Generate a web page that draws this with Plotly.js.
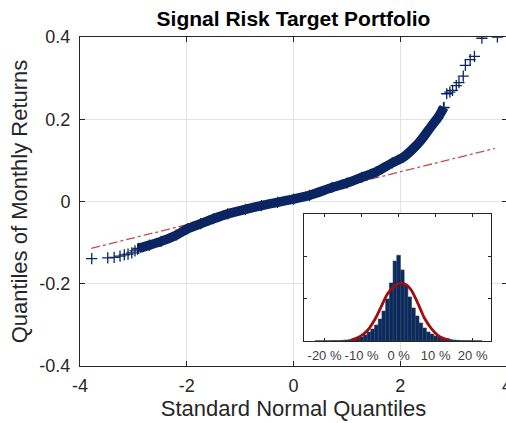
<!DOCTYPE html>
<html>
<head>
<meta charset="utf-8">
<script src="https://cdn.plot.ly/plotly-3.0.1.min.js"></script>
<style>
  html, body { margin: 0; padding: 0; background: #fff; overflow: hidden; }
  #chart { width: 507px; height: 423px; }
</style>
</head>
<body>
<div id="chart"></div>
<script>
// Q-Q plot of monthly returns against standard normal quantiles,
// with an inset histogram of the same returns and a fitted normal curve.

// Dense central part of the sample quantiles (drawn as a continuous band of markers)
const bandTheoretical = [-2.90, -2.70, -2.48, -2.20, -1.98, -1.74, -1.50, -1.23, -0.90, -0.60, -0.30, 0.00,
                          0.30, 0.72, 1.00, 1.28, 1.55, 1.85, 2.05, 2.23, 2.40, 2.57, 2.70, 2.82];
const bandSample = [-0.114, -0.106, -0.097, -0.082, -0.066, -0.054, -0.042, -0.030, -0.019, -0.010, -0.002, 0.006,
                     0.015, 0.034, 0.045, 0.059, 0.072, 0.094, 0.107, 0.127, 0.151, 0.181, 0.203, 0.229];

// Individual tail quantiles
const lowTailTheoretical = [-3.78, -3.48, -3.36, -3.25, -3.17, -3.10, -3.03, -2.97, -2.92];
const lowTailSample = [-0.139, -0.137, -0.136, -0.133, -0.130, -0.128, -0.125, -0.120, -0.116];
const highTailTheoretical = [2.81, 2.87, 2.93, 2.98, 3.05, 3.10, 3.18, 3.22, 3.31, 3.39, 3.53, 3.82];
const highTailSample = [0.228, 0.262, 0.266, 0.270, 0.282, 0.289, 0.305, 0.331, 0.345, 0.353, 0.397, 0.400];

// Reference line through the quartiles, extended across the data range
const refLineX = [-3.79, 3.77];
const refLineY = [-0.114, 0.129];

// Histogram of monthly returns (bin centres in %, density)
const binCenters = [-22, -21, -20, -19, -18, -17, -16, -15, -14, -13, -12, -11, -10, -9, -8, -7, -6, -5, -4, -3, -2, -1, 0,
                    1, 2, 3, 4, 5, 6, 7, 8, 9, 10, 11, 12, 13, 14, 15, 16, 17, 18, 19, 20, 21, 22];
const binDensity = [0.03, 0.03, 0.04, 0.04, 0.05, 0.05, 0.06, 0.08, 0.12, 0.18, 0.24, 0.36, 0.48, 0.71, 1.07, 1.43, 1.90, 2.62, 3.57, 5.00, 6.90, 9.50, 10.20,
                    8.45, 6.66, 5.24, 3.93, 2.98, 2.14, 1.55, 1.07, 0.83, 0.60, 0.48, 0.36, 0.24, 0.18, 0.12, 0.08, 0.06, 0.05, 0.05, 0.04, 0.03, 0.03];

// Fitted normal density (return in %)
const fitX = [-12.8, -10.5, -8.3, -6.5, -4.7, -2.9, -1.0, 0.7, 2.2, 3.4, 5.2, 7.0, 8.8, 11.1, 13.8];
const fitY = [0.12, 0.52, 1.31, 2.50, 4.08, 5.68, 6.55, 6.87, 6.65, 6.07, 4.48, 2.70, 1.51, 0.52, 0.12];

// Axis tick labels
const mainXTicks = [-4, -2, 0, 2, 4];
const mainXLabels = ['-4', '-2', '0', '2', '4'];
const mainYTicks = [-0.4, -0.2, 0, 0.2, 0.4];
const mainYLabels = ['-0.4', '-0.2', '0', '0.2', '0.4'];
const insetXTicks = [-20, -10, 0, 10, 20];
const insetXLabels = ['-20 %', '-10 %', '0 %', '10 %', '20 %'];

const navy = '#0a2561';
const axisColor = '#262626';
const fontFamily = 'Liberation Sans, Arial, Helvetica, sans-serif';

const crossMarker = { symbol: 'cross-thin-open', size: 8, color: navy, line: { color: navy, width: 1.3 } };

const traces = [
  {
    x: refLineX, y: refLineY, type: 'scatter', mode: 'lines',
    line: { color: '#c0504d', width: 1.3, dash: 'dashdot' },
    xaxis: 'x', yaxis: 'y', hoverinfo: 'skip'
  },
  {
    x: bandTheoretical, y: bandSample, type: 'scatter', mode: 'lines+markers',
    line: { color: navy, width: 9.5, shape: 'spline', smoothing: 0.6 },
    marker: crossMarker,
    xaxis: 'x', yaxis: 'y'
  },
  {
    x: lowTailTheoretical, y: lowTailSample, type: 'scatter', mode: 'markers',
    marker: crossMarker, xaxis: 'x', yaxis: 'y'
  },
  {
    x: highTailTheoretical, y: highTailSample, type: 'scatter', mode: 'markers',
    marker: crossMarker, xaxis: 'x', yaxis: 'y'
  },
  {
    x: binCenters, y: binDensity, type: 'bar', width: 1,
    marker: { color: '#082a5e', line: { color: '#33425e', width: 0.6 } },
    xaxis: 'x2', yaxis: 'y2'
  },
  {
    x: fitX, y: fitY, type: 'scatter', mode: 'lines',
    line: { color: '#a30d0d', width: 2.8, shape: 'spline', smoothing: 1 },
    xaxis: 'x2', yaxis: 'y2'
  }
];

const layout = {
  width: 507,
  height: 423,
  margin: { l: 80, r: 0, t: 37, b: 57 },
  paper_bgcolor: '#ffffff',
  plot_bgcolor: '#ffffff',
  showlegend: false,
  font: { family: fontFamily, color: axisColor },
  title: {
    text: '<b>Signal Risk Target Portfolio</b>',
    font: { family: fontFamily, size: 21, color: '#000000' },
    xref: 'paper', x: 0.5, xanchor: 'center',
    yref: 'container', y: 0.955, yanchor: 'middle'
  },
  xaxis: {
    domain: [0, 1],
    range: [-4, 4],
    tickvals: mainXTicks, ticktext: mainXLabels,
    ticks: 'inside', ticklen: 5, tickcolor: axisColor,
    showline: true, linecolor: axisColor, linewidth: 1, mirror: 'ticks',
    showgrid: true, gridcolor: '#e3e3e3', zeroline: false,
    tickfont: { size: 18, color: axisColor },
    ticklabelstandoff: 3,
    ticklabeloverflow: 'allow',
    title: { text: 'Standard Normal Quantiles', font: { size: 22, color: axisColor }, standoff: 4 }
  },
  yaxis: {
    domain: [0, 1],
    range: [-0.4, 0.4],
    tickvals: mainYTicks, ticktext: mainYLabels,
    ticks: 'inside', ticklen: 5, tickcolor: axisColor,
    showline: true, linecolor: axisColor, linewidth: 1, mirror: 'ticks',
    showgrid: true, gridcolor: '#e3e3e3', zeroline: false,
    tickfont: { size: 18, color: axisColor },
    ticklabelstandoff: 5,
    title: { text: 'Quantiles of Monthly Returns', font: { size: 22, color: axisColor }, standoff: 5 }
  },
  xaxis2: {
    anchor: 'y2',
    domain: [0.525, 0.963],
    range: [-25.5, 25],
    tickvals: insetXTicks, ticktext: insetXLabels,
    ticks: 'inside', ticklen: 3, tickcolor: axisColor,
    showline: true, linecolor: axisColor, linewidth: 1, mirror: 'ticks',
    showgrid: false, zeroline: false,
    tickfont: { size: 13, color: '#404040' },
    ticklabelstandoff: 2
  },
  yaxis2: {
    anchor: 'x2',
    domain: [0.076, 0.462],
    range: [0, 15.1],
    tickvals: [0, 5, 10],
    ticks: 'inside', ticklen: 3, tickcolor: axisColor,
    showline: true, linecolor: axisColor, linewidth: 1, mirror: 'ticks',
    showgrid: false, zeroline: false, showticklabels: false
  },
  bargap: 0
};

Plotly.newPlot('chart', traces, layout, { displayModeBar: false, staticPlot: true });
</script>
</body>
</html>
